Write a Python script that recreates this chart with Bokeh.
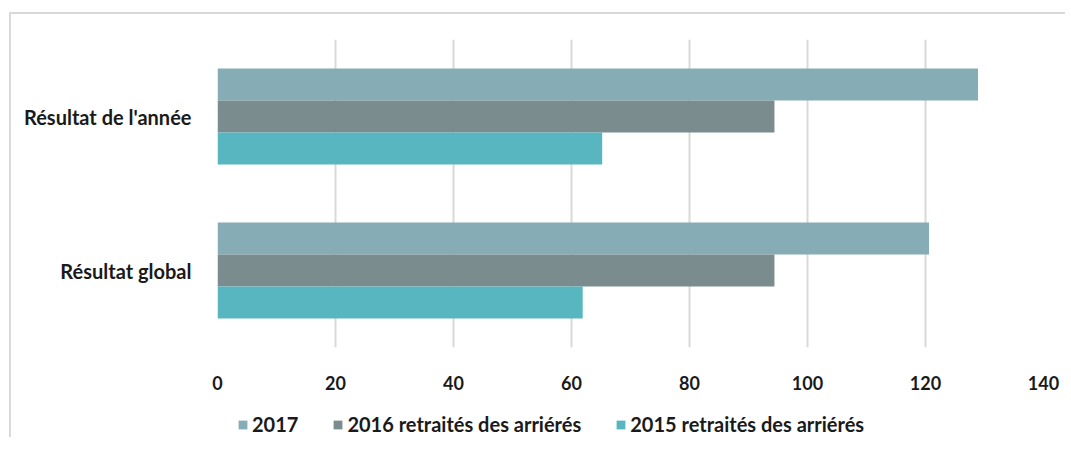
from bokeh.plotting import figure
from bokeh.models import FactorRange, Legend, LegendItem, ColumnDataSource, Range1d
from bokeh.layouts import column
from bokeh.transform import dodge
from bokeh.embed import file_html
from bokeh.resources import INLINE

categories = ["Résultat global", "Résultat de l'année"]
series_names = ["2017", "2016 retraités des arriérés", "2015 retraités des arriérés"]
values_2017 = [120.6, 128.9]
values_2016 = [94.4, 94.4]
values_2015 = [61.9, 65.2]
colors = ["#86ADB5", "#7B8C8E", "#58B6C0"]
x_ticks = [0, 20, 40, 60, 80, 100, 120, 140]

src = ColumnDataSource(dict(cat=categories, v2017=values_2017, v2016=values_2016, v2015=values_2015))

p = figure(width=1054, height=383,
           y_range=FactorRange(factors=categories), x_range=(0, 140),
           output_backend="svg", toolbar_location=None,
           min_border_left=206, min_border_right=22, min_border_top=25, min_border_bottom=50)

bh = 0.208
offsets = [bh, 0.0, -bh]
cols = ["v2017", "v2016", "v2015"]
for col, off, c in zip(cols, offsets, colors):
    p.hbar(y=dodge("cat", off, range=p.y_range), right=col, left=0, height=bh,
           source=src, fill_color=c, line_color=None)

p.outline_line_color = None
p.background_fill_color = "white"
p.border_fill_color = "white"

p.xaxis.ticker = x_ticks
p.xaxis.axis_line_color = None
p.xaxis.major_tick_line_color = None
p.xaxis.minor_tick_line_color = None
p.xaxis.major_label_standoff = 22
p.xaxis.major_label_text_font = "Lato"
p.xaxis.major_label_text_font_style = "bold"
p.xaxis.major_label_text_font_size = "18px"
p.xaxis.major_label_text_color = "#1a1a1a"

p.yaxis.axis_line_color = None
p.yaxis.major_tick_line_color = None
p.yaxis.minor_tick_line_color = None
p.yaxis.major_label_standoff = 20
p.yaxis.major_label_text_font = "Lato"
p.yaxis.major_label_text_font_style = "bold"
p.yaxis.major_label_text_font_size = "20px"
p.yaxis.major_label_text_color = "#1a1a1a"

p.xgrid.grid_line_color = "#d9d9d9"
p.xgrid.grid_line_width = 2
p.ygrid.grid_line_color = None

# legend strip (proxy renderers lie outside the visible range)
pl = figure(width=1054, height=40, x_range=Range1d(0, 1), y_range=Range1d(0, 1),
            x_axis_type=None, y_axis_type=None, output_backend="svg", toolbar_location=None,
            min_border=0)
pl.outline_line_color = None
pl.xgrid.visible = False
pl.ygrid.visible = False
leg_renderers = [pl.hbar(y=[-5], right=[1], left=0, height=0.5, fill_color=c, line_color=None)
                 for c in colors]

legend = Legend(items=[LegendItem(label=n, renderers=[r]) for n, r in zip(series_names, leg_renderers)],
                orientation="horizontal", location=(20, 1),
                glyph_width=11, glyph_height=11, label_standoff=4, spacing=34,
                label_text_font="Lato", label_text_font_style="bold", label_text_font_size="20px",
                label_text_color="#1a1a1a", border_line_color=None, background_fill_alpha=0,
                margin=0, padding=0)
pl.add_layout(legend, "center")

layout = column(p, pl, spacing=0,
                styles={"border-left": "2px solid #d9d9d9", "border-top": "2px solid #d9d9d9",
                        "margin-left": "9px", "margin-top": "12px"})

open("out.html", "w").write(file_html(layout, INLINE))
